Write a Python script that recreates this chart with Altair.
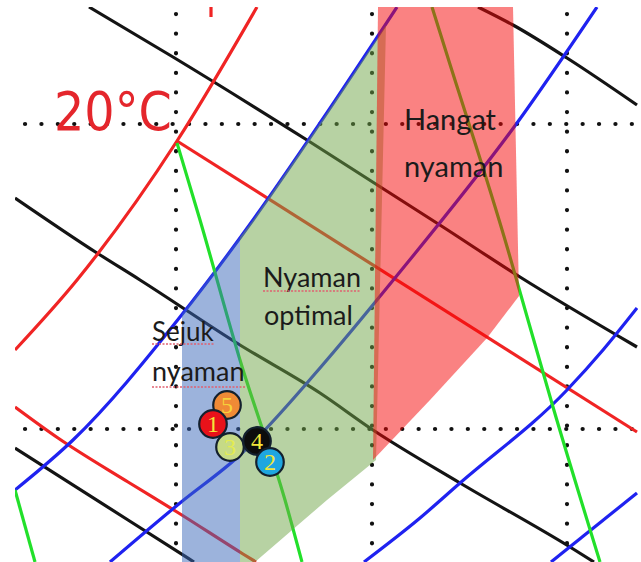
import altair as alt
import pandas as pd

# ---------------- data (chart units) ----------------
# dotted grid
grid_vx = [176, 372, 567]
grid_hy = [124, 429]

# black (down-right) lines
k1_x = [89, 173, 307, 443, 520, 637]
k1_y = [7, 57, 140, 227, 277, 347]
k2_x = [478, 513, 567, 637]
k2_y = [7, 25, 58, 105]
k3_x = [15, 97, 140, 240, 320, 373, 460, 570, 594]
k3_y = [198, 253, 280, 345, 393, 430, 483, 547, 562]
k4_x = [15, 128, 194]
k4_y = [448, 520, 562]

# red lines
rc_x = [15, 77, 177, 257]
rc_y = [350, 280, 141, 7]
ra_x = [177, 637]
ra_y = [141, 432]
rb_x = [15, 58, 128, 177, 243, 256]
rb_y = [407, 438, 482, 512, 554, 562]
rt_x = [211, 211]
rt_y = [7, 17]

# blue lines
b1_x = [15, 73, 180, 253, 320, 397]
b1_y = [490, 440, 317, 220, 123, 7]
b2_x = [110, 180, 240, 320, 395, 517, 597]
b2_y = [562, 503, 455, 368, 278, 123, 7]
b3_x = [364, 420, 460, 567, 603, 637]
b3_y = [562, 518, 483, 390, 350, 308]
b4_x = [551, 637]
b4_y = [562, 493]

# green lines
g1_x = [177, 200, 240, 285, 302]
g1_y = [143, 220, 360, 500, 562]
g2_x = [432, 448, 508, 520, 553, 600]
g2_y = [7, 58, 250, 292, 407, 562]
g3_x = [15, 35]
g3_y = [490, 562]

# comfort zones (polygons)
zone_blue_x = [182, 240, 240, 182]
zone_blue_y = [314, 237, 562, 562]
zone_green_x = [240, 253, 320, 386, 376, 327, 255, 240]
zone_green_y = [237, 220, 123, 25, 460, 500, 562, 562]
zone_red_x = [378, 513, 519, 487, 430, 373]
zone_red_y = [7, 7, 296, 338, 400, 460]

# labels
label_text = ["Hangat", "nyaman", "Nyaman", "optimal", "Sejuk", "nyaman"]
label_x = [404, 404, 263, 264, 152, 152]
label_y = [130, 177, 287, 325, 341, 381]
label_size = [29, 29, 27, 27, 26, 27]

# spell-check underlines
ul_x = [152, 152, 263]
ul_x2 = [215, 246, 360]
ul_y = [344, 387, 291]

# numbered points
pt_id = ["5", "1", "3", "4", "2"]
pt_x = [227, 213, 230, 257, 270]
pt_y = [405, 424, 447, 441, 462]
pt_color = ["#ef8a36", "#e8121a", "#c6da86", "#0c0c0c", "#1ea6e0"]
pt_text_color = ["#f6d23a", "#f3e63a", "#e4ec50", "#f3e63a", "#f3e63a"]

temp_label = ["20°C"]
temp_x = [54]
temp_y = [130]

# ---------------- build tables ----------------
def lines_df(spec):
    rows = []
    for name, (xs, ys, col) in spec.items():
        for i, (a, b) in enumerate(zip(xs, ys)):
            rows.append({"line": name, "x": a, "y": b, "o": i, "c": col})
    return pd.DataFrame(rows)

BLACK, RED, BLUE, GREEN = "#141414", "#f02424", "#1f22f0", "#22e02a"
line_spec = {
    "k1": (k1_x, k1_y, BLACK), "k2": (k2_x, k2_y, BLACK),
    "k3": (k3_x, k3_y, BLACK), "k4": (k4_x, k4_y, BLACK),
    "rc": (rc_x, rc_y, RED), "ra": (ra_x, ra_y, RED),
    "rb": (rb_x, rb_y, RED), "rt": (rt_x, rt_y, RED),
    "b1": (b1_x, b1_y, BLUE), "b2": (b2_x, b2_y, BLUE),
    "b3": (b3_x, b3_y, BLUE), "b4": (b4_x, b4_y, BLUE),
    "g1": (g1_x, g1_y, GREEN), "g2": (g2_x, g2_y, GREEN),
    "g3": (g3_x, g3_y, GREEN),
}
lines = lines_df(line_spec)

XS = alt.Scale(domain=[15, 638], nice=False, zero=False)
YS = alt.Scale(domain=[7, 562], nice=False, zero=False, reverse=True)
X = lambda f="x": alt.X(f"{f}:Q", scale=XS, axis=None)
Y = lambda f="y": alt.Y(f"{f}:Q", scale=YS, axis=None)

vgrid = pd.DataFrame({"x": grid_vx, "y": [14] * 3, "y2": [562] * 3})
hgrid = pd.DataFrame({"y": grid_hy, "x": [25] * 2, "x2": [638] * 2})

vdots = alt.Chart(vgrid).mark_rule(
    color="#111", strokeWidth=4.2, strokeCap="round", strokeDash=[0.1, 19.5], clip=True
).encode(x=X(), y=Y(), y2="y2:Q")
hdots = alt.Chart(hgrid).mark_rule(
    color="#111", strokeWidth=4.2, strokeCap="round", strokeDash=[0.1, 16.3], clip=True
).encode(y=Y(), x=X(), x2="x2:Q")

line_layer = alt.Chart(lines).mark_line(
    strokeWidth=3.2, interpolate="monotone", clip=True
).encode(
    x=X(), y=Y(), detail="line:N", order="o:Q",
    color=alt.Color("c:N", scale=None),
)

def zone(xs, ys, col):
    df = pd.DataFrame({"x": xs, "y": ys, "o": list(range(len(xs)))})
    return alt.Chart(df).mark_line(
        interpolate="linear-closed", fill=col, fillOpacity=0.5,
        strokeOpacity=0, clip=True
    ).encode(x=X(), y=Y(), order="o:Q")

zones = [
    zone(zone_blue_x, zone_blue_y, "#3a68ba"),
    zone(zone_green_x, zone_green_y, "#6fa548"),
    zone(zone_red_x, zone_red_y, "#f50606"),
]

temp = alt.Chart(pd.DataFrame({"t": temp_label, "x": temp_x, "y": temp_y})).mark_text(
    font="Liberation Sans Narrow, DejaVu Sans Condensed, Roboto Condensed, Liberation Sans",
    fontSize=53, fontWeight=500, color="#e4262c", align="left", baseline="alphabetic"
).encode(x=X(), y=Y(), text="t:N")

labels = alt.Chart(pd.DataFrame({"t": label_text, "x": label_x, "y": label_y, "s": label_size})).mark_text(
    font="Lato", color="#1b1b1b", align="left", baseline="alphabetic"
).encode(x=X(), y=Y(), text="t:N", size=alt.Size("s:Q", scale=None))

underl = alt.Chart(pd.DataFrame({"x": ul_x, "x2": ul_x2, "y": ul_y})).mark_rule(
    color="#e06070", strokeWidth=1.3, strokeDash=[2, 1.5]
).encode(x=X(), x2="x2:Q", y=Y())

pts_df = pd.DataFrame({"id": pt_id, "x": pt_x, "y": pt_y, "c": pt_color,
                       "tc": pt_text_color, "o": list(range(5))})
circles = alt.Chart(pts_df).mark_point(
    filled=True, size=760, stroke="#13202e", strokeWidth=2.2, opacity=1, shape="circle"
).encode(x=X(), y=Y(), fill=alt.Fill("c:N", scale=None), order="o:Q")
digits = alt.Chart(pts_df).mark_text(
    font="Liberation Serif", fontSize=24, align="center", baseline="middle", dy=1
).encode(x=X(), y=Y(), text="id:N", color=alt.Color("tc:N", scale=None), order="o:Q")

chart = alt.layer(
    vdots, hdots, line_layer, *zones, temp, labels, underl, circles, digits
).properties(
    width=623, height=555,
    padding={"left": 15, "top": 7, "right": 3, "bottom": 0},
    autosize=alt.AutoSizeParams(type="none"),
).configure_view(stroke=None)

chart.save("out.html", embed_options={"renderer": "svg", "actions": False})
